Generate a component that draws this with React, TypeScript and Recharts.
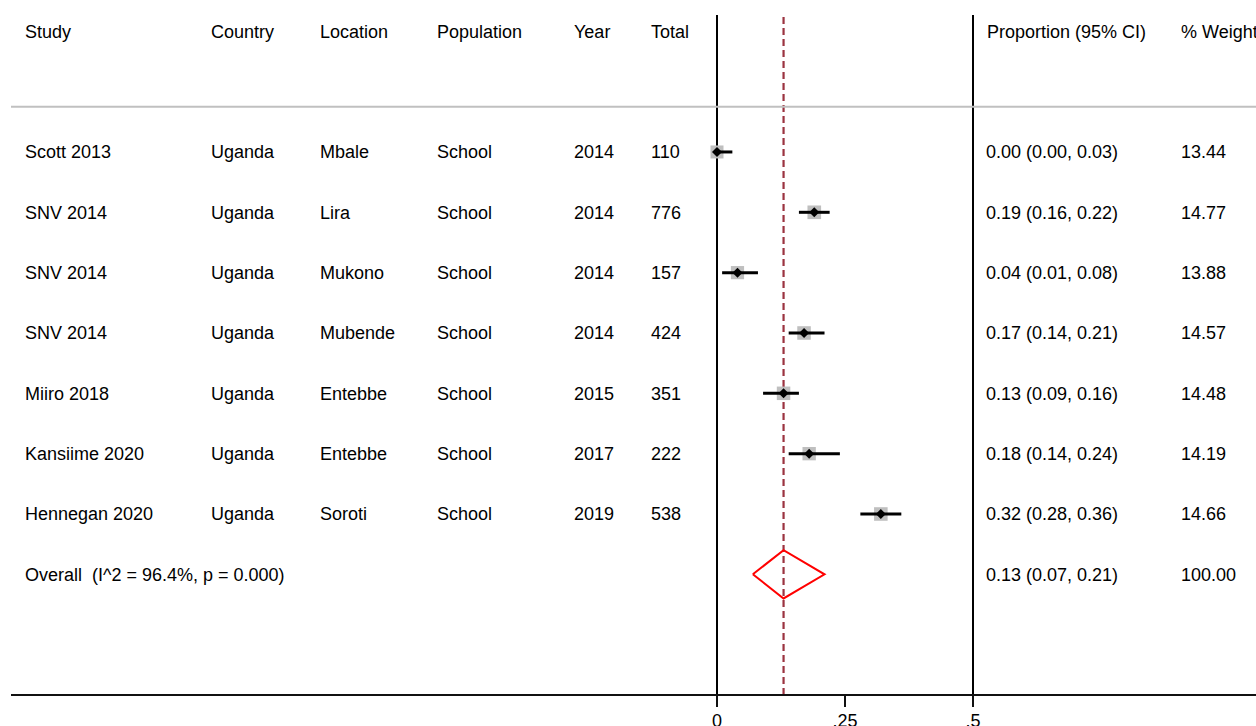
import { ComposedChart, ReferenceLine, Scatter, XAxis, YAxis, ZAxis } from 'recharts'

const studies = ['Scott 2013', 'SNV 2014', 'SNV 2014', 'SNV 2014', 'Miiro 2018', 'Kansiime 2020', 'Hennegan 2020']
const countries = ['Uganda', 'Uganda', 'Uganda', 'Uganda', 'Uganda', 'Uganda', 'Uganda']
const locations = ['Mbale', 'Lira', 'Mukono', 'Mubende', 'Entebbe', 'Entebbe', 'Soroti']
const populations = ['School', 'School', 'School', 'School', 'School', 'School', 'School']
const years = ['2014', '2014', '2014', '2014', '2015', '2017', '2019']
const totals = ['110', '776', '157', '424', '351', '222', '538']
const proportions = [0.0, 0.19, 0.04, 0.17, 0.13, 0.18, 0.32]
const ciLower = [0.0, 0.16, 0.01, 0.14, 0.09, 0.14, 0.28]
const ciUpper = [0.03, 0.22, 0.08, 0.21, 0.16, 0.24, 0.36]
const weights = [13.44, 14.77, 13.88, 14.57, 14.48, 14.19, 14.66]

const overallLabel = 'Overall  (I^2 = 96.4%, p = 0.000)'
const overallEstimate = 0.13
const overallLower = 0.07
const overallUpper = 0.21
const overallWeight = 100

const leftHeaders = ['Study', 'Country', 'Location', 'Population', 'Year', 'Total']
const rightHeaders = ['Proportion (95% CI)', '% Weight']
const xTicks = [0, 0.25, 0.5]
const xTickLabels = ['0', '.25', '.5']

const FONT = '"Liberation Sans", Arial, sans-serif'
const leftCols = [25, 211, 320, 437, 574, 651]
const rightCols = [986, 1181]
const HEADER_ROW = -2
const RULE_ROW = -0.75
const BOTTOM_ROW = 9
const OVERALL_ROW = studies.length
const rowTicks = [HEADER_ROW, RULE_ROW, ...studies.map((_, i) => i), OVERALL_ROW, BOTTOM_ROW]
const rowDomain = [-2.27, BOTTOM_ROW]

const rowData = studies.map((_, i) => ({ x: proportions[i], y: i, z: weights[i] }))
const ciSegments = studies.map((_, i) => [
  { x: ciLower[i], y: i },
  { x: ciUpper[i], y: i },
])
const diamondHalf = 0.4
const overallOutline = [
  { x: overallLower, y: OVERALL_ROW },
  { x: overallEstimate, y: OVERALL_ROW - diamondHalf },
  { x: overallUpper, y: OVERALL_ROW },
  { x: overallEstimate, y: OVERALL_ROW + diamondHalf },
  { x: overallLower, y: OVERALL_ROW },
]

const fmtCI = (p: number, lo: number, hi: number) => `${p.toFixed(2)} (${lo.toFixed(2)}, ${hi.toFixed(2)})`

function Cell({ x, y, children }: { x: number; y: number; children: string }) {
  return (
    <text x={x} y={y} dy="0.36em" fontSize={18} fontFamily={FONT} fill="#000" style={{ whiteSpace: 'pre' }}>
      {children}
    </text>
  )
}

function LeftTable(props: any) {
  const { y, payload } = props
  const v = payload.value
  if (v === HEADER_ROW) {
    return <g>{leftHeaders.map((h, i) => <Cell key={h} x={leftCols[i]} y={y}>{h}</Cell>)}</g>
  }
  if (v === RULE_ROW) {
    return <line x1={11} x2={1256} y1={y} y2={y} stroke="#c0c0c0" strokeWidth={2} />
  }
  if (v === BOTTOM_ROW) {
    return <line x1={11} x2={1256} y1={y} y2={y} stroke="#111" strokeWidth={2} />
  }
  if (v === OVERALL_ROW) {
    return <Cell x={leftCols[0]} y={y}>{overallLabel}</Cell>
  }
  const cells = [studies[v], countries[v], locations[v], populations[v], years[v], totals[v]]
  return <g>{cells.map((c, i) => <Cell key={i} x={leftCols[i]} y={y}>{c}</Cell>)}</g>
}

function RightTable(props: any) {
  const { y, payload } = props
  const v = payload.value
  if (v === HEADER_ROW) {
    return (
      <g>
        <Cell x={rightCols[0] + 1} y={y}>{rightHeaders[0]}</Cell>
        <Cell x={rightCols[1]} y={y}>{rightHeaders[1]}</Cell>
      </g>
    )
  }
  if (v === OVERALL_ROW) {
    return (
      <g>
        <Cell x={rightCols[0]} y={y}>{fmtCI(overallEstimate, overallLower, overallUpper)}</Cell>
        <Cell x={rightCols[1]} y={y}>{overallWeight.toFixed(2)}</Cell>
      </g>
    )
  }
  if (v < 0 || v >= studies.length) return <g />
  return (
    <g>
      <Cell x={rightCols[0]} y={y}>{fmtCI(proportions[v], ciLower[v], ciUpper[v])}</Cell>
      <Cell x={rightCols[1]} y={y}>{weights[v].toFixed(2)}</Cell>
    </g>
  )
}

// small black diamond marking each point estimate
function PointMarker(props: any) {
  const { cx, cy } = props
  const r = 5
  return <polygon points={`${cx - r},${cy} ${cx},${cy - r} ${cx + r},${cy} ${cx},${cy + r}`} fill="#000" />
}

export default function App() {
  return (
    <div style={{ position: 'absolute', left: 0, top: 0, background: '#fff' }}>
      <ComposedChart width={1256} height={726} margin={{ top: 15, right: 0, bottom: 0, left: 0 }}>
        <XAxis
          type="number"
          dataKey="x"
          domain={[0, 0.5]}
          ticks={xTicks}
          tickFormatter={(v: number) => xTickLabels[xTicks.indexOf(v)]}
          height={31}
          tickSize={12}
          tickMargin={7}
          axisLine={{ stroke: '#111', strokeWidth: 2 }}
          tickLine={{ stroke: '#111', strokeWidth: 2 }}
          tick={{ fill: '#000', fontSize: 18, fontFamily: FONT }}
        />
        <YAxis
          type="number"
          dataKey="y"
          domain={rowDomain}
          reversed
          ticks={rowTicks}
          interval={0}
          width={717}
          tickLine={false}
          axisLine={{ stroke: '#000', strokeWidth: 2 }}
          tick={<LeftTable />}
        />
        <YAxis
          yAxisId="right"
          orientation="right"
          type="number"
          dataKey="y"
          domain={rowDomain}
          reversed
          ticks={rowTicks}
          interval={0}
          width={283}
          tickLine={false}
          axisLine={{ stroke: '#000', strokeWidth: 2 }}
          tick={<RightTable />}
        />
        <ZAxis type="number" dataKey="z" domain={[0, 100]} range={[0, 1257]} />
        <ReferenceLine x={overallEstimate} stroke="#9b3340" strokeWidth={2.2} strokeDasharray="7 4" />
        <Scatter data={rowData} shape="square" fill="#bfbfbf" isAnimationActive={false} />
        {ciSegments.map((seg, i) => (
          <Scatter
            key={i}
            data={seg}
            line={{ stroke: '#000', strokeWidth: 3 }}
            lineType="joint"
            shape={<g />}
            isAnimationActive={false}
          />
        ))}
        <Scatter data={rowData} shape={<PointMarker />} isAnimationActive={false} />
        <Scatter
          yAxisId="right"
          data={overallOutline}
          line={{ stroke: '#ff0000', strokeWidth: 2 }}
          lineType="joint"
          shape={<g />}
          isAnimationActive={false}
        />
      </ComposedChart>
    </div>
  )
}
